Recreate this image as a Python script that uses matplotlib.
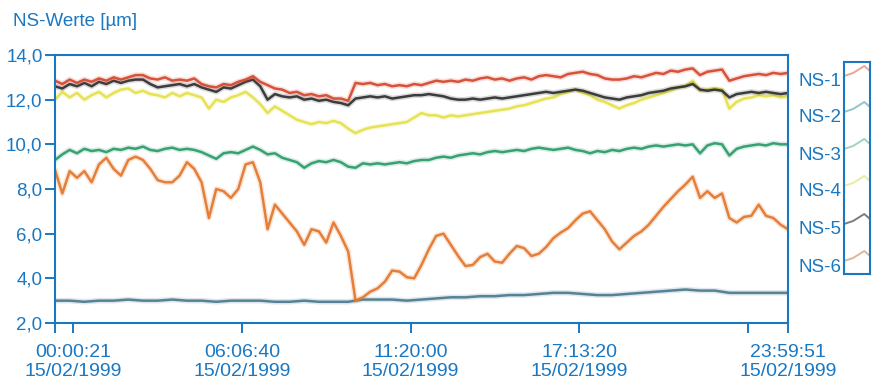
import numpy as np
import matplotlib
matplotlib.use("Agg")
from matplotlib import pyplot as plt

# NS readings over the day, equally spaced samples from start to end of recording
ns1 = [12.85, 12.7, 12.9, 12.75, 12.9, 12.8, 12.95, 12.85, 13.0, 12.9, 13.0, 13.1, 13.1, 12.95, 12.9,
       13.0, 12.85, 12.9, 12.85, 12.95, 12.7, 12.6, 12.55, 12.7, 12.65, 12.8, 12.9, 13.05, 12.8, 12.65,
       12.5, 12.45, 12.3, 12.35, 12.2, 12.25, 12.15, 12.2, 12.05, 12.05, 11.95, 12.75, 12.7, 12.75, 12.65,
       12.7, 12.6, 12.65, 12.6, 12.7, 12.65, 12.75, 12.85, 12.8, 12.85, 12.8, 12.9, 12.85, 12.95, 13.0,
       12.9, 12.95, 12.85, 12.95, 13.0, 12.9, 13.05, 13.1, 13.05, 13.0, 13.15, 13.2, 13.25, 13.15, 13.1,
       12.95, 12.9, 12.9, 12.95, 13.05, 13.0, 13.1, 13.2, 13.15, 13.3, 13.25, 13.35, 13.4, 13.1, 13.25,
       13.3, 13.35, 12.85, 12.95, 13.05, 13.1, 13.15, 13.1, 13.2, 13.15, 13.2]
ns2 = [3.0, 3.0, 2.95, 3.0, 3.0, 3.05, 3.0, 3.0, 3.05, 3.0, 3.0, 2.95, 3.0, 3.0, 3.0, 2.95, 2.95,
       3.0, 2.95, 2.95, 2.95, 3.05, 3.05, 3.05, 3.0, 3.05, 3.1, 3.15, 3.15, 3.2, 3.2, 3.25, 3.25, 3.3,
       3.35, 3.35, 3.3, 3.25, 3.25, 3.3, 3.35, 3.4, 3.45, 3.5, 3.45, 3.45, 3.35, 3.35, 3.35, 3.35, 3.35]
ns3 = [9.3, 9.55, 9.75, 9.6, 9.8, 9.7, 9.75, 9.65, 9.8, 9.75, 9.85, 9.8, 9.9, 9.75, 9.7, 9.8, 9.85,
       9.75, 9.8, 9.75, 9.65, 9.5, 9.35, 9.6, 9.65, 9.6, 9.75, 9.9, 9.75, 9.55, 9.6, 9.4, 9.3, 9.2,
       8.95, 9.15, 9.25, 9.2, 9.3, 9.2, 9.0, 8.95, 9.15, 9.1, 9.15, 9.1, 9.15, 9.2, 9.15, 9.25, 9.3,
       9.3, 9.4, 9.45, 9.4, 9.5, 9.55, 9.6, 9.55, 9.65, 9.7, 9.65, 9.7, 9.75, 9.7, 9.8, 9.85, 9.8,
       9.75, 9.8, 9.85, 9.75, 9.7, 9.6, 9.7, 9.65, 9.75, 9.7, 9.8, 9.85, 9.8, 9.9, 9.95, 9.9, 9.95,
       10.0, 9.95, 10.0, 9.6, 9.95, 10.05, 10.0, 9.5, 9.8, 9.9, 9.95, 10.0, 9.95, 10.05, 10.0, 10.0]
ns4 = [12.0, 12.35, 12.1, 12.3, 12.0, 12.2, 12.35, 12.1, 12.3, 12.45, 12.5, 12.3, 12.4, 12.25, 12.2,
       12.1, 12.3, 12.15, 12.3, 12.2, 12.1, 11.6, 12.0, 11.9, 12.1, 12.2, 12.35, 12.1, 11.8, 11.4,
       11.7, 11.5, 11.3, 11.1, 11.0, 10.9, 11.0, 10.95, 11.05, 10.95, 10.7, 10.5, 10.65, 10.75, 10.8,
       10.85, 10.9, 10.95, 11.0, 11.2, 11.4, 11.3, 11.3, 11.2, 11.3, 11.25, 11.3, 11.35, 11.4, 11.45,
       11.5, 11.55, 11.6, 11.7, 11.75, 11.85, 11.95, 12.05, 12.1, 12.25, 12.35, 12.45, 12.3, 12.2, 12.0,
       11.9, 11.75, 11.6, 11.75, 11.85, 12.0, 12.1, 12.2, 12.3, 12.4, 12.55, 12.6, 12.85, 12.4, 12.45,
       12.5, 12.45, 11.6, 11.9, 12.05, 12.1, 12.2, 12.15, 12.2, 12.1, 12.15]
ns5 = [12.6, 12.5, 12.7, 12.6, 12.75, 12.6, 12.8, 12.7, 12.85, 12.75, 12.85, 12.9, 12.9, 12.7, 12.55,
       12.6, 12.65, 12.7, 12.6, 12.7, 12.55, 12.45, 12.35, 12.55, 12.5, 12.65, 12.8, 12.9, 12.6, 12.0,
       12.25, 12.15, 12.1, 12.15, 12.0, 12.05, 11.95, 12.0, 11.9, 11.85, 11.75, 12.05, 12.1, 12.15, 12.1,
       12.15, 12.05, 12.1, 12.15, 12.2, 12.2, 12.25, 12.2, 12.15, 12.05, 12.0, 12.0, 12.05, 12.0, 12.05,
       12.1, 12.05, 12.1, 12.15, 12.2, 12.25, 12.3, 12.35, 12.3, 12.35, 12.4, 12.45, 12.4, 12.3, 12.2,
       12.1, 12.05, 12.0, 12.1, 12.15, 12.2, 12.3, 12.35, 12.4, 12.5, 12.55, 12.6, 12.7, 12.45, 12.4,
       12.45, 12.4, 12.1, 12.25, 12.3, 12.35, 12.3, 12.35, 12.3, 12.25, 12.3]
ns6 = [8.85, 7.8, 8.8, 8.5, 8.8, 8.3, 9.1, 9.4, 8.9, 8.6, 9.3, 9.45, 9.3, 8.9, 8.4, 8.3, 8.3, 8.6,
       9.2, 8.9, 8.3, 6.7, 8.0, 7.9, 7.6, 8.0, 9.1, 9.2, 8.3, 6.2, 7.3, 6.9, 6.5, 6.1, 5.5, 6.2, 6.1,
       5.6, 6.5, 5.9, 5.2, 3.0, 3.15, 3.4, 3.55, 3.85, 4.35, 4.3, 4.05, 4.0, 4.6, 5.3, 5.9, 6.0, 5.5,
       5.0, 4.55, 4.6, 4.95, 5.1, 4.75, 4.7, 5.1, 5.45, 5.35, 5.0, 5.1, 5.4, 5.8, 6.05, 6.25, 6.6, 6.9,
       7.0, 6.6, 6.2, 5.65, 5.3, 5.6, 5.9, 6.1, 6.4, 6.8, 7.2, 7.55, 7.9, 8.2, 8.55, 7.6, 7.9, 7.6,
       7.8, 6.7, 6.5, 6.75, 6.8, 7.3, 6.8, 6.7, 6.4, 6.2]

names = ["NS-1", "NS-2", "NS-3", "NS-4", "NS-5", "NS-6"]
series = [ns1, ns2, ns3, ns4, ns5, ns6]
colors = ["#d64a32", "#4f7d93", "#2f9d6c", "#e4e14c", "#333333", "#e4792f"]
pale = ["#e9a595", "#93c6c9", "#9fd6b8", "#e9eba6", "#7c7c7c", "#dcb898"]

time_labels = ["00:00:21\n15/02/1999", "06:06:40\n15/02/1999", "11:20:00\n15/02/1999",
               "17:13:20\n15/02/1999", "23:59:51\n15/02/1999"]
yticks = [2, 4, 6, 8, 10, 12, 14]

blue = "#1a78c2"
font = ["Liberation Sans", "DejaVu Sans"]
plt.rcParams['font.family'] = font

fig = plt.figure(figsize=(8.93, 3.83), dpi=100)
ax = fig.add_axes([55 / 893, 1 - 323 / 383, 733 / 893, 268 / 383])

# draw order: the lower series go first so the top band overlaps correctly
for i in [1, 2, 3, 4, 0, 5]:
    vals = np.array(series[i])
    x = np.linspace(0, 100, len(vals))
    ax.plot(x, vals, color=colors[i], lw=4.0, alpha=0.18, solid_capstyle="round")
    ax.plot(x, vals, color=colors[i], lw=1.8, alpha=0.95)

ax.set_xlim(0, 100)
ax.set_ylim(2, 14)
ax.set_yticks(yticks)
ax.set_yticklabels([f"{v:.1f}".replace(".", ",") for v in yticks])

# ticks every ~23 % plus both ends; the last label sits on the right end
ax.set_xticks([0, 2.5, 25.5, 48.5, 71.5, 94.5, 100])
ax.set_xticklabels(["", time_labels[0], time_labels[1], time_labels[2], time_labels[3], "", time_labels[4]],
                   linespacing=1.2)

for sp in ax.spines.values():
    sp.set_color(blue)
    sp.set_linewidth(1.5)
ax.tick_params(axis="both", colors=blue, direction="out", length=7, width=1.4,
               labelsize=13.5, labelcolor=blue)
ax.tick_params(axis="x", pad=8, labelsize=14)
ax.tick_params(axis="y", pad=2)

fig.text(13 / 893, 1 - 21 / 383, "NS-Werte [\u00b5m]", color=blue, fontsize=13.5, va="center")

# legend: labels on the left, a framed column of small sample strokes on the right
label_y = [82, 118, 155, 192, 230, 267]
for name, ly in zip(names, label_y):
    fig.text(798 / 893, 1 - ly / 383, name, color=blue, fontsize=13.5, va="center")

lax = fig.add_axes([844 / 893, 1 - 274 / 383, 26 / 893, 212 / 383])
lax.set_xlim(0, 1)
lax.set_ylim(274, 62)
lax.set_xticks([])
lax.set_yticks([])
for sp in lax.spines.values():
    sp.set_color(blue)
    sp.set_linewidth(1.5)
for c, ly in zip(pale, label_y):
    lax.plot([0.0, 0.35, 0.78, 1.0], [ly - 6, ly - 9, ly - 16, ly - 11], color=c, lw=1.4)

plt.savefig("out.png", dpi=100)
